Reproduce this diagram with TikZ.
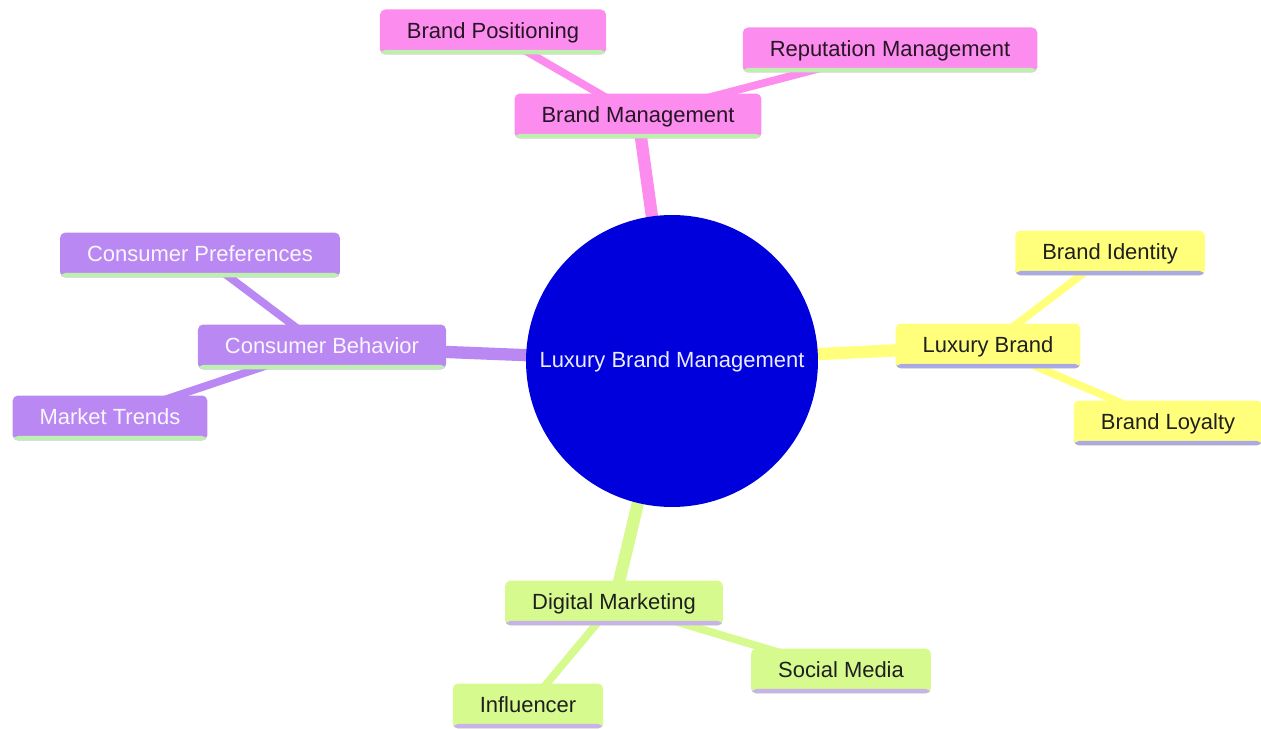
\documentclass[tikz,border=0pt]{standalone}
\usepackage{fontspec}
\setmainfont{Liberation Sans}
\usetikzlibrary{backgrounds}

\definecolor{pinkfill}{HTML}{FC8CEE}
\definecolor{purplefill}{HTML}{BA88F2}
\definecolor{yellowfill}{HTML}{FFFF7C}
\definecolor{greenfill}{HTML}{D6FA8E}
\definecolor{rootblue}{HTML}{0000DC}
\definecolor{greenline}{HTML}{BDF0AE}
\definecolor{blueline}{HTML}{ABA8E6}
\definecolor{lilacline}{HTML}{C7B2EA}

\begin{document}
\begin{tikzpicture}[x=0.02cm, y=-0.02cm, font=\fontsize{12.5}{15}\selectfont,
	box/.style 2 args={rectangle, rounded corners=3pt, fill=#1, minimum height=0.9cm, inner xsep=0.54cm,
		text height=0.72em, text depth=0pt,
		path picture={\fill[#2] ([yshift=2.6pt]path picture bounding box.south west) rectangle (path picture bounding box.south east);}},
	rootedge/.style={line width=7pt, draw=#1},
	leafedge/.style={line width=4.4pt, draw=#1}]
\useasboundingbox (0,0) rectangle (1261,729);

\node[circle, fill=rootblue, minimum size=5.84cm, inner sep=0pt, text height=0.72em, text depth=0pt, text=blue!8!white] (root) at (672,361) {Luxury Brand Management};

% brand management
\node[box={pinkfill}{greenline}, text=black!85!pinkfill] (bm) at (638,116) {Brand Management};
\node[box={pinkfill}{greenline}, text=black!85!pinkfill] (bp) at (493,32) {Brand Positioning};
\node[box={pinkfill}{greenline}, text=black!85!pinkfill] (rep) at (890,50) {Reputation Management};

% consumer behavior
\node[box={purplefill}{greenline}, text=white!92!purplefill] (cb) at (322,347) {Consumer Behavior};
\node[box={purplefill}{greenline}, text=white!92!purplefill] (cp) at (200,255) {Consumer Preferences};
\node[box={purplefill}{greenline}, text=white!92!purplefill] (mt) at (110,418) {Market Trends};

% luxury brand
\node[box={yellowfill}{blueline}, text=black!88] (lb) at (988,346) {Luxury Brand};
\node[box={yellowfill}{blueline}, text=black!88] (bi) at (1110,253) {Brand Identity};
\node[box={yellowfill}{blueline}, text=black!88] (bl) at (1168,423) {Brand Loyalty};

% digital marketing
\node[box={greenfill}{lilacline}, text=black!88] (dm) at (614,603) {Digital Marketing};
\node[box={greenfill}{lilacline}, text=black!88] (sm) at (841,671) {Social Media};
\node[box={greenfill}{lilacline}, text=black!88] (inf) at (528,706) {Influencer};

\begin{scope}[on background layer]
\foreach \n/\c in {bm/pinkfill, cb/purplefill, lb/yellowfill, dm/greenfill} {
	\draw[rootedge=\c] (root.center) -- (\n.center);
	};
\foreach \a/\b/\c in {bm/bp/pinkfill, bm/rep/pinkfill, cb/cp/purplefill, cb/mt/purplefill,
	lb/bi/yellowfill, lb/bl/yellowfill, dm/sm/greenfill, dm/inf/greenfill} {
	\draw[leafedge=\c] (\a.center) -- (\b.center);
	};
\end{scope}
\end{tikzpicture}
\end{document}
